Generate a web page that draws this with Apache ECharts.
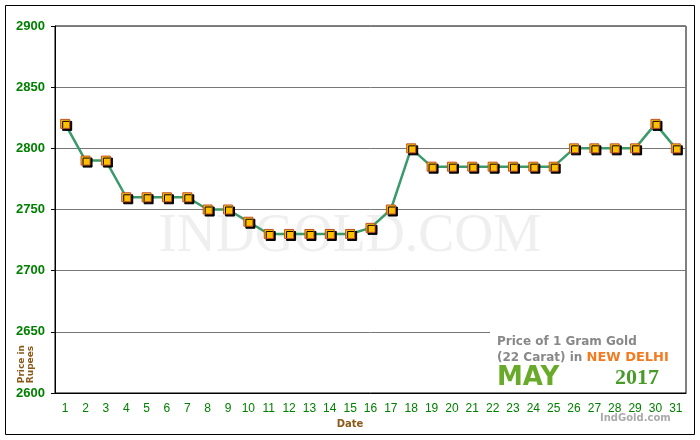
<!DOCTYPE html><html><head><meta charset="utf-8"><script src="https://cdn.jsdelivr.net/npm/echarts@6/dist/echarts.min.js"></script></head><body style="margin:0"><div id="c" style="width:700px;height:440px"></div><script>
const dates=[];for(let i=1;i<=31;i++)dates.push(String(i));
const prices=[2820,2790,2790,2760,2760,2760,2760,2750,2750,2740,2730,2730,2730,2730,2730,2735,2750,2800,2785,2785,2785,2785,2785,2785,2785,2800,2800,2800,2800,2820,2800];
const yTicks=[2600,2650,2700,2750,2800,2850,2900];
const ch=echarts.init(document.getElementById('c'));
ch.setOption({
 backgroundColor:'#fff',animation:false,
 grid:{left:55,right:14,top:26,bottom:47,show:true,borderColor:'#000',borderWidth:1},
 graphic:[
  {type:'rect',shape:{x:5.5,y:5.5,width:689,height:429},style:{fill:'none',stroke:'#000',lineWidth:1},z:-1},
  {type:'text',left:'center',top:210,style:{text:'INDGOLD.COM',font:'54px "Liberation Serif"',fill:'#efefef'},z:-1},
  {type:'rect',shape:{x:490,y:331,width:195,height:61},style:{fill:'#fff'},z:50},
  {type:'text',x:497,y:336,style:{text:'Price of 1 Gram Gold',font:'bold 12px "DejaVu Sans"',fill:'#888'},z:51},
  {type:'text',x:497,y:351,style:{rich:{a:{font:'bold 12px "DejaVu Sans"',fill:'#888'},b:{font:'bold 13px "DejaVu Sans"',fill:'#f47a20'}},text:'{a|(22 Carat) in }{b|NEW DELHI}'},z:51},
  {type:'text',x:497,y:365,style:{rich:{a:{font:'bold 26px "DejaVu Sans"',fill:'#6aaa2a',width:118},b:{font:'bold 22px "Liberation Sans Narrow"',fill:'#4a9a2a'}},text:'{a|MAY}{b|2017}'},z:51},
  {type:'text',x:600,y:413,style:{text:'IndGold.com',font:'bold 10px "DejaVu Sans"',fill:'#aaa'}},
  {type:'text',left:17,top:345,style:{text:'Price in\nRupees',font:'bold 9px "DejaVu Sans"',fill:'#8b5a1a'},rotation:Math.PI/2},
  {type:'text',left:'center',top:419,style:{text:'Date',font:'bold 10px "DejaVu Sans"',fill:'#8b5a1a'}}
 ],
 xAxis:{type:'category',data:dates,boundaryGap:true,axisLine:{lineStyle:{color:'#000'}},axisTick:{alignWithLabel:true,lineStyle:{color:'#000'}},axisLabel:{color:'#008000',fontSize:12,fontFamily:'Liberation Sans',margin:10}},
 yAxis:{type:'value',min:2600,max:2900,interval:50,axisLine:{show:true,lineStyle:{color:'#000'}},axisTick:{show:true,length:4,lineStyle:{color:'#000'}},axisLabel:{color:'#008000',fontSize:13,fontWeight:'bold',fontFamily:'Liberation Sans',margin:10,formatter:v=>String(v)},splitLine:{lineStyle:{color:'#777',width:1}}},
 series:[{type:'line',data:prices,symbol:'rect',symbolSize:9,lineStyle:{color:'#3a9a6a',width:2.5},itemStyle:{color:'#ffc000',borderColor:'#c0502a',borderWidth:1,shadowColor:'#000',shadowOffsetX:2,shadowOffsetY:2}}]
});
</script></body></html>
